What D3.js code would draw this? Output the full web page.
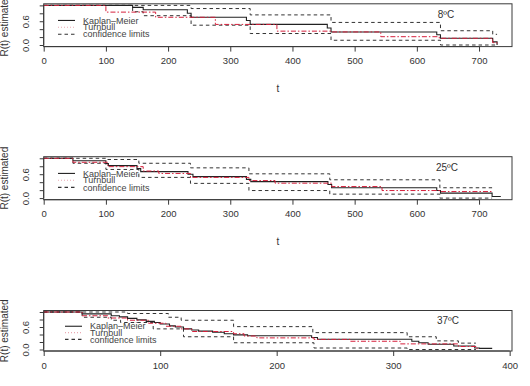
<!DOCTYPE html>
<html><head><meta charset="utf-8">
<script src="https://cdn.jsdelivr.net/npm/d3@7"></script>
<style>html,body{margin:0;padding:0;background:#fff}svg{display:block}</style>
</head><body>
<script>
// ---- data ----
const panelLabels = ["8ºC", "25ºC", "37ºC"];
const legendLabels = ["Kaplan–Meier", "Turnbull", "confidence limits"];
const xTicks12 = [0, 100, 200, 300, 400, 500, 600, 700];
const xTicks3 = [0, 100, 200, 300, 400];
const yTicks = [0, 0.2, 0.4, 0.6, 0.8, 1.0];
const yTickLabels = ["0.0", "", "", "0.6", "", ""];

// [time, R(t)] step points, 8ºC
const km8 = [[0,1],[143,0.95],[160,0.89],[231,0.80],[237,0.70],[326,0.62],[332,0.52],[456,0.43],[462,0.33],[632,0.26],[638,0.17],[722,0.08],[729,0.0]];
const tb8 = [[0,1],[100,0.83],[180,0.70],[276,0.52],[375,0.35],[462,0.33],[542,0.21],[636,0.17],[722,0.06],[729,0.0]];
const up8 = [[0,1],[237,0.92],[332,0.76],[462,0.57],[638,0.36],[722,0.27],[729,0.27]];
const lo8 = [[0,1],[143,0.84],[160,0.74],[237,0.50],[332,0.29],[462,0.12],[638,0.0],[729,0.0]];
// 25ºC
const km25 = [[0,1],[47,0.94],[100,0.87],[104,0.815],[150,0.74],[156,0.665],[232,0.60],[240,0.54],[326,0.47],[333,0.415],[457,0.34],[463,0.26],[632,0.19],[638,0.125],[721,0.04],[735,0.04]];
const tb25 = [[0,1],[47,0.90],[103,0.79],[160,0.68],[185,0.62],[236,0.52],[330,0.44],[372,0.375],[463,0.29],[544,0.19],[638,0.165],[721,0.165]];
const up25 = [[0,1],[100,0.97],[153,0.875],[236,0.76],[330,0.61],[460,0.46],[637,0.26],[721,0.26]];
const lo25 = [[0,1],[47,0.875],[100,0.72],[153,0.52],[236,0.37],[330,0.19],[460,0.10],[637,0.0],[721,0.0]];
// 37ºC
const km37 = [[0,1],[33,0.95],[58,0.90],[65,0.87],[72,0.83],[80,0.79],[88,0.75],[95,0.72],[100,0.68],[108,0.63],[113,0.60],[120,0.55],[127,0.52],[133,0.49],[145,0.46],[155,0.42],[163,0.39],[175,0.365],[230,0.32],[235,0.275],[316,0.22],[322,0.18],[330,0.14],[352,0.095],[370,0.04],[374,0.03],[385,0.03]];
const tb37 = [[0,1],[33,0.90],[55,0.84],[72,0.78],[90,0.70],[105,0.62],[118,0.55],[127,0.48],[163,0.42],[172,0.36],[183,0.31],[232,0.27],[263,0.22],[306,0.15],[356,0.08],[372,0.0]];
const up37 = [[0,1],[72,0.96],[107,0.86],[118,0.78],[163,0.61],[231,0.45],[312,0.34],[337,0.23],[356,0.17],[371,0.17]];
const lo37 = [[0,1],[33,0.86],[58,0.78],[66,0.72],[94,0.55],[120,0.34],[163,0.18],[232,0.04],[312,0.0],[371,0.0]];

const W = 530, H = 386;
const svg = d3.select("body").append("svg").attr("width", W).attr("height", H)
  .style("font-family", "'Liberation Sans', Arial, Helvetica, sans-serif");

const panels = [
  {label: panelLabels[0], km: km8, tb: tb8, up: up8, lo: lo8, xmax: 753, ticks: xTicks12, top: 3.8, bottom: 46.6, showT: true, legX: 58, labX: 446},
  {label: panelLabels[1], km: km25, tb: tb25, up: up25, lo: lo25, xmax: 753, ticks: xTicks12, top: 156.7, bottom: 199.7, showT: true, legX: 58, labX: 447},
  {label: panelLabels[2], km: km37, tb: tb37, up: up37, lo: lo37, xmax: 402, ticks: xTicks3, top: 310.5, bottom: 351, showT: false, legX: 65, labX: 448}
];

const left = 43.7, right = 512;
const axisCol = "#3a3a3a", textCol = "#333";

panels.forEach(p => {
  const x = d3.scaleLinear().domain([0, p.xmax]).range([left, right]);
  const y = d3.scaleLinear().domain([-0.04, 1.04]).range([p.bottom, p.top]);
  const g = svg.append("g");
  const line = d3.line().x(d => x(d[0])).y(d => y(d[1])).curve(d3.curveStepAfter);

  // series
  g.append("path").datum(p.up).attr("d", line).attr("fill", "none").attr("stroke", "#333").attr("stroke-width", 1).attr("stroke-dasharray", "3.5,3");
  g.append("path").datum(p.lo).attr("d", line).attr("fill", "none").attr("stroke", "#333").attr("stroke-width", 1).attr("stroke-dasharray", "3.5,3");
  g.append("path").datum(p.km).attr("d", line).attr("fill", "none").attr("stroke", "#222").attr("stroke-width", 1.1);
  g.append("path").datum(p.tb).attr("d", line).attr("fill", "none").attr("stroke", "#d6203c").attr("stroke-width", 1).attr("stroke-dasharray", "5,2,1.5,2");

  // box
  g.append("rect").attr("x", left).attr("y", p.top).attr("width", right - left).attr("height", p.bottom - p.top)
    .attr("fill", "none").attr("stroke", axisCol).attr("stroke-width", 1);

  // x axis
  const xa = g.append("g").attr("transform", `translate(0,${p.bottom})`)
    .call(d3.axisBottom(x).tickValues(p.ticks).tickFormat(d3.format("d")).tickSize(5).tickPadding(6));
  xa.select(".domain").attr("stroke", axisCol).attr("d", `M${x(p.ticks[0])},0H${x(p.ticks[p.ticks.length-1])}`);
  xa.selectAll(".tick line").attr("stroke", axisCol);
  xa.selectAll("text").attr("fill", textCol).style("font-size", "9.5px");

  // y axis
  const ya = g.append("g").attr("transform", `translate(${left},0)`)
    .call(d3.axisLeft(y).tickValues(yTicks).tickFormat((d, i) => yTickLabels[i]).tickSize(4).tickPadding(5));
  ya.select(".domain").attr("stroke", axisCol).attr("d", `M0,${y(0)}V${y(1)}`);
  ya.selectAll(".tick line").attr("stroke", axisCol);
  ya.selectAll("text").attr("fill", textCol).style("font-size", "9.5px")
    .attr("text-anchor", "middle").attr("dy", "0")
    .attr("transform", function() { return "translate(-15,0) rotate(-90)"; }).attr("x", 0).attr("y", 0);

  // y label
  const cy = (p.top + p.bottom) / 2;
  g.append("text").attr("transform", `translate(8,${cy}) rotate(-90)`).attr("text-anchor", "middle")
    .attr("fill", textCol).style("font-size", "10px").text("R(t) estimated");

  if (p.showT) {
    g.append("text").attr("x", (left + right) / 2).attr("y", p.bottom + 45).attr("text-anchor", "middle")
      .attr("fill", textCol).style("font-size", "10px").text("t");
  }

  // temperature label
  g.append("text").attr("x", p.labX).attr("y", y(0.69)).attr("text-anchor", "middle")
    .attr("fill", "#333").style("font-size", "10px").text(p.label);

  // legend
  const ly = [y(0.62), y(0.45), y(0.27)];
  const styles = [
    {stroke: "#222", dash: null},
    {stroke: "#eaa9b2", dash: "1,2"},
    {stroke: "#333", dash: "3.5,3"}
  ];
  legendLabels.forEach((t, i) => {
    g.append("line").attr("x1", p.legX).attr("x2", p.legX + 17).attr("y1", ly[i]).attr("y2", ly[i])
      .attr("stroke", styles[i].stroke).attr("stroke-width", 1.1).attr("stroke-dasharray", styles[i].dash);
    g.append("text").attr("x", p.legX + 25).attr("y", ly[i]).attr("dy", "0.35em")
      .attr("fill", "#444").style("font-size", "9px").text(t);
  });
});
</script>
</body></html>
